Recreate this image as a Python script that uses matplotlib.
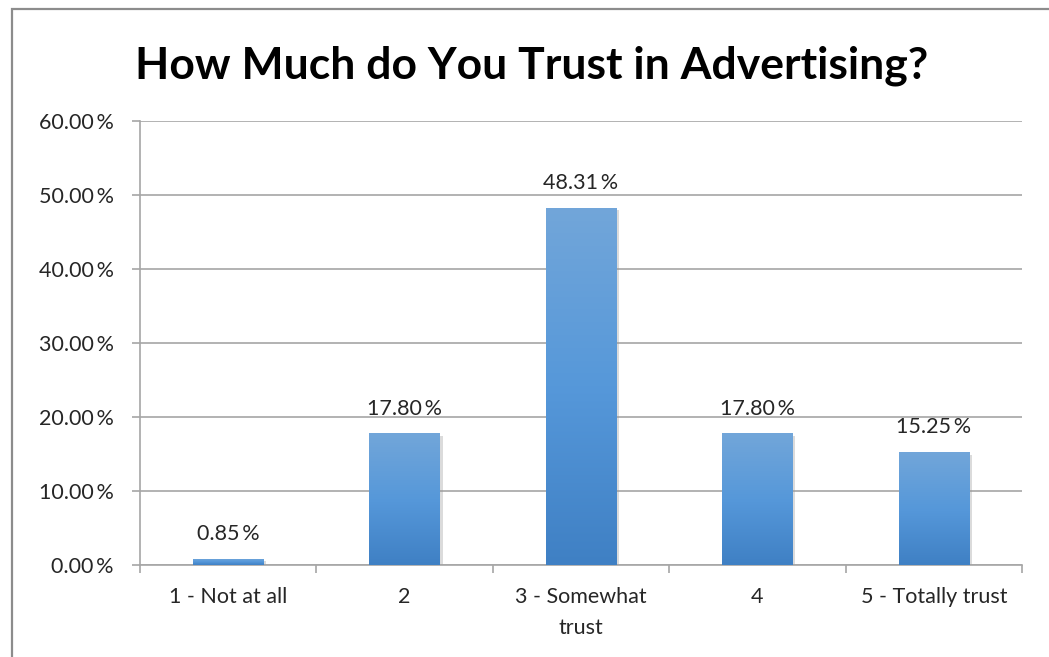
import numpy as np
import matplotlib
matplotlib.use("Agg")
import matplotlib.pyplot as plt
import matplotlib.patheffects as pe
from matplotlib.colors import LinearSegmentedColormap
from matplotlib.patches import Rectangle
from matplotlib.ticker import FixedLocator

# survey answers and share of respondents (%)
categories = ["1 - Not at all", "2", "3 - Somewhat\ntrust", "4", "5 - Totally trust"]
shares = [0.85, 17.80, 48.31, 17.80, 15.25]
y_ticks = [0, 10, 20, 30, 40, 50, 60]

plt.rcParams['font.family'] = ['Lato', 'DejaVu Sans']
text_color = "#262626"
grid_color = "#a6a6a6"
label_size = 15.5


def pct(v):
    # thin space before the percent sign
    return f"{v:.2f}\u2009%"


fig = plt.figure(figsize=(10.49, 6.57), dpi=100)
ax = fig.add_axes([140 / 1049, 1 - 565 / 657, (1022 - 140) / 1049, (565 - 121) / 657])

x = np.arange(len(categories))
bars = ax.bar(x, shares, width=0.4, color="#4a88c9", zorder=2)

# vertical gradient inside each bar
grad_cmap = LinearSegmentedColormap.from_list("bar", ["#3f80c4", "#5698da", "#72a6d9"])
gradient = np.linspace(0, 1, 256).reshape(-1, 1)
for b in bars:
    b.set_path_effects([pe.SimplePatchShadow(offset=(2, -2), shadow_rgbFace="#9a9a9a", alpha=0.35),
                        pe.Normal()])
    x0, w, h = b.get_x(), b.get_width(), b.get_height()
    im = ax.imshow(gradient, cmap=grad_cmap, aspect="auto", origin="lower",
                   extent=(x0, x0 + w, 0, h), zorder=3)
    im.set_clip_path(b)

for xi, v in zip(x, shares):
    ax.annotate(pct(v), (xi, v), xytext=(0, 13.5), textcoords="offset points",
                ha="center", va="baseline", fontsize=label_size, color=text_color)

ax.set_xlim(-0.5, len(categories) - 0.5)
ax.set_ylim(0, 60)
ax.set_yticks(y_ticks)
ax.set_yticklabels([pct(t) for t in y_ticks])
ax.yaxis.grid(True, color=grid_color, lw=1.2, zorder=0)
ax.set_axisbelow(True)

ax.set_xticks(x)
ax.set_xticklabels(categories, linespacing=1.7)
ax.xaxis.set_minor_locator(FixedLocator(np.arange(-0.5, len(categories), 1.0)))
ax.tick_params(axis="x", which="major", length=0, pad=16, labelsize=label_size, labelcolor=text_color)
ax.tick_params(axis="x", which="minor", length=6, width=1.2, color=grid_color, direction="out")
ax.tick_params(axis="y", length=6, width=1.2, color=grid_color, pad=13,
               labelsize=label_size, labelcolor=text_color)

for side in ("top", "right"):
    ax.spines[side].set_visible(False)
for side in ("left", "bottom"):
    ax.spines[side].set_color(grid_color)
    ax.spines[side].set_linewidth(1.2)

fig.text(0.507, 1 - 78 / 657, "How Much do You Trust in Advertising?", ha="center",
         va="baseline", fontsize=32, fontweight="bold", color="black")

# chart frame
fig.patches.append(Rectangle((12 / 1049, -0.1), 1.2, 1.1 - 9 / 657, transform=fig.transFigure,
                             fill=False, edgecolor="#8c8c8c", lw=1.6))

fig.savefig("out.png", dpi=100, facecolor="white")
